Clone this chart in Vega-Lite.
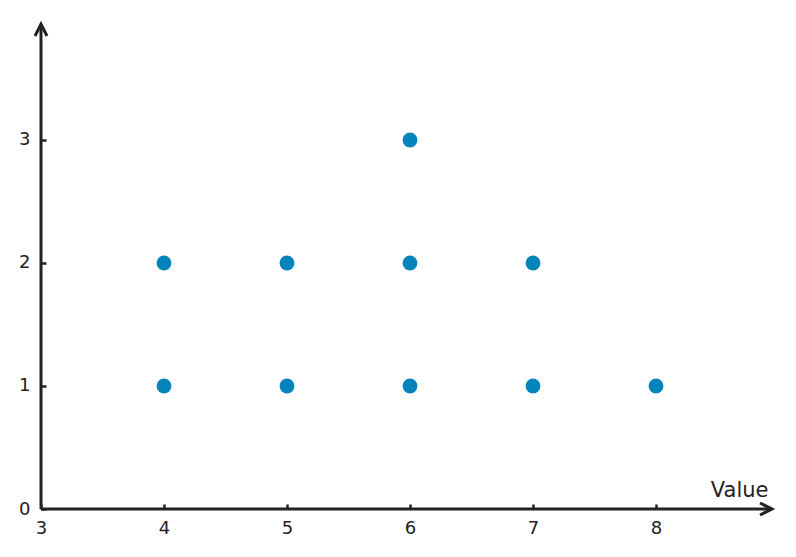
{
  "$schema": "https://vega.github.io/schema/vega-lite/v6.json",
  "width": 731,
  "height": 485,
  "autosize": {"type": "none"},
  "padding": {"left": 41, "top": 24, "right": 24, "bottom": 48},
  "background": "white",
  "datasets": {
    "dots": [
      {"value": 4, "count": 1},
      {"value": 4, "count": 2},
      {"value": 5, "count": 1},
      {"value": 5, "count": 2},
      {"value": 6, "count": 1},
      {"value": 6, "count": 2},
      {"value": 6, "count": 3},
      {"value": 7, "count": 1},
      {"value": 7, "count": 2},
      {"value": 8, "count": 1}
    ],
    "axisLines": [
      {"x": 3, "x2": 8.943, "y": 0, "y2": 0},
      {"x": 3, "x2": 3, "y": 0, "y2": 3.943}
    ],
    "arrowX": [{"x": 8.943, "y": 0}],
    "arrowY": [{"x": 3, "y": 3.943}]
  },
  "layer": [
    {
      "description": "axis lines",
      "data": {"name": "axisLines"},
      "mark": {"type": "rule", "color": "#222222", "strokeWidth": 3},
      "encoding": {
        "x": {"field": "x", "type": "quantitative"},
        "x2": {"field": "x2"},
        "y": {"field": "y", "type": "quantitative"},
        "y2": {"field": "y2"}
      }
    },
    {
      "description": "x arrow head",
      "data": {"name": "arrowX"},
      "mark": {
        "type": "point",
        "shape": "M -2 -1 L 0 0 L -2 1",
        "size": 144,
        "filled": false,
        "color": "#222222",
        "strokeWidth": 3,
        "opacity": 1
      },
      "encoding": {
        "x": {"field": "x", "type": "quantitative"},
        "y": {"field": "y", "type": "quantitative"}
      }
    },
    {
      "description": "y arrow head",
      "data": {"name": "arrowY"},
      "mark": {
        "type": "point",
        "shape": "M -1 2 L 0 0 L 1 2",
        "size": 144,
        "filled": false,
        "color": "#222222",
        "strokeWidth": 3,
        "opacity": 1
      },
      "encoding": {
        "x": {"field": "x", "type": "quantitative"},
        "y": {"field": "y", "type": "quantitative"}
      }
    },
    {
      "description": "dots",
      "data": {"name": "dots"},
      "mark": {"type": "circle", "size": 220, "color": "#0284BA", "opacity": 1},
      "encoding": {
        "x": {
          "field": "value",
          "type": "quantitative",
          "scale": {"domain": [3, 8.943], "nice": false, "zero": false},
          "axis": {
            "values": [3, 4, 5, 6, 7, 8],
            "format": "d",
            "labelFlush": false,
            "offset": -5,
            "tickSize": 5,
            "labelPadding": 10,
            "title": "Value",
            "titleAnchor": "end",
            "titleAlign": "right",
            "titleBaseline": "alphabetic",
            "titleX": 727,
            "titleY": -8,
            "titleFontSize": 21,
            "titleFontWeight": "normal"
          }
        },
        "y": {
          "field": "count",
          "type": "quantitative",
          "scale": {"domain": [0, 3.943], "nice": false},
          "axis": {
            "values": [0, 1, 2, 3],
            "format": "d",
            "labelFlush": false,
            "offset": -5,
            "tickSize": 5,
            "labelPadding": 11,
            "title": null
          }
        }
      }
    }
  ],
  "config": {
    "view": {"stroke": null},
    "font": "DejaVu Sans",
    "axis": {
      "grid": false,
      "domain": false,
      "ticks": true,
      "tickColor": "#222222",
      "tickWidth": 2.5,
      "tickOpacity": 1,
      "labelFont": "DejaVu Sans",
      "labelFontSize": 18,
      "labelColor": "#222222",
      "titleFont": "DejaVu Sans",
      "titleColor": "#222222",
      "zindex": 1
    }
  }
}
